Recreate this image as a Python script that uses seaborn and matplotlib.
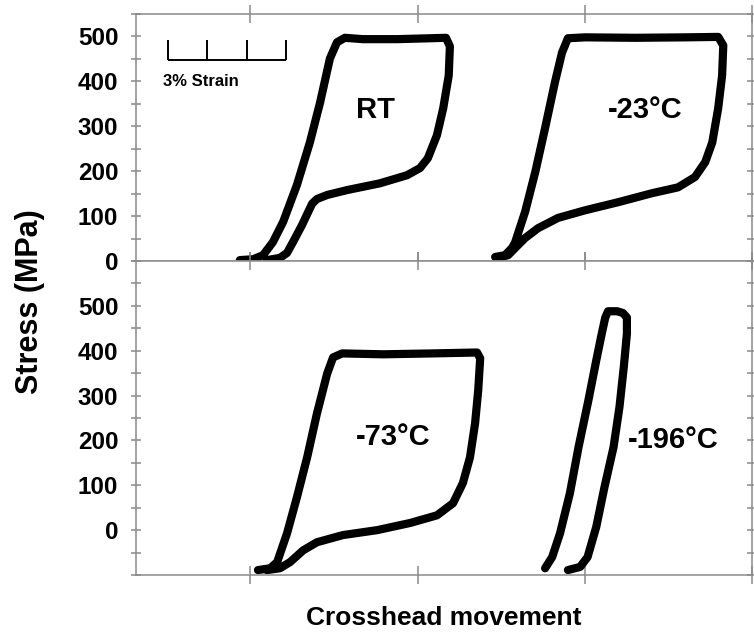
import matplotlib
matplotlib.use("Agg")
import matplotlib.pyplot as plt
from matplotlib.ticker import MultipleLocator, FixedLocator
import pandas as pd
import seaborn as sns

# Crosshead movement expressed in % strain, stress in MPa
rt_strain = [2.64, 2.98, 3.23, 3.48, 3.74, 4.09, 4.42, 4.68, 4.93, 5.11, 5.31, 5.77,
             6.64, 7.48, 7.88, 7.98, 7.95, 7.81, 7.65, 7.42, 7.22, 6.89, 6.20, 5.37,
             4.86, 4.60, 4.48, 4.36, 4.22, 3.99, 3.84, 3.66, 3.33]
rt_stress = [2, 4, 13, 42, 87, 169, 264, 353, 451, 487, 497, 494,
             494, 496, 497, 478, 413, 340, 280, 229, 207, 191, 173, 158,
             147, 138, 128, 106, 80, 42, 18, 7, 2]

m23_strain = [9.13, 9.38, 9.56, 9.64, 9.89, 10.15, 10.40, 10.65, 10.83, 10.98, 11.42,
              12.69, 13.96, 14.80, 14.93, 14.90, 14.80, 14.65, 14.47, 14.21, 13.78,
              13.12, 12.26, 11.42, 10.73, 10.22, 9.89, 9.64, 9.46, 9.20]
m23_stress = [9, 13, 29, 42, 109, 198, 296, 398, 464, 496, 498,
              497, 498, 499, 480, 413, 340, 264, 220, 187, 164,
              151, 131, 113, 96, 73, 51, 29, 13, 7]

m73_strain = [3.10, 3.41, 3.59, 3.84, 4.09, 4.35, 4.60, 4.86, 5.01, 5.24, 6.28, 7.55,
              8.67, 8.75, 8.70, 8.62, 8.49, 8.31, 8.06, 7.65, 6.97, 6.13, 5.26, 4.60,
              4.25, 3.92, 3.66, 3.33]
m73_stress = [-89, -85, -71, -7, 73, 162, 260, 349, 385, 394, 392, 394,
              396, 383, 312, 238, 162, 105, 60, 33, 16, 0, -11, -27,
              -45, -71, -85, -89]

m196_strain = [10.40, 10.58, 10.78, 11.03, 11.25, 11.50, 11.70, 11.84, 11.93, 12.00,
               12.23, 12.38, 12.48, 12.48, 12.40, 12.29, 12.14, 11.91, 11.70, 11.48,
               11.29, 10.98]
m196_stress = [-85, -60, -7, 82, 185, 289, 378, 438, 474, 488,
               488, 484, 474, 438, 363, 274, 185, 96, 7, -60,
               -82, -89]

loop_labels = ["RT", "-23°C", "-73°C", "-196°C"]
label_strain = [6.10, 12.94, 6.53, 13.65]
label_stress = [336, 336, 207, 202]

scale_bar_ticks = [0.81, 1.81, 2.81, 3.81]   # 1 % strain divisions
scale_bar_level = 447
scale_bar_top = 493

sns.set_theme(style="white")
plt.rcParams["font.family"] = ["Liberation Sans", "DejaVu Sans"]
plt.rcParams["font.weight"] = "bold"
plt.rcParams["text.color"] = "black"
plt.rcParams["axes.labelcolor"] = "black"

GREY = "#8a8a8a"
fig = plt.figure(figsize=(7.54, 6.38), dpi=100)
W, H = 754, 638
left, right = 136 / W, 752 / W
ax_top = fig.add_axes([left, 1 - 261 / H, right - left, (261 - 14) / H])
ax_bot = fig.add_axes([left, 1 - 575 / H, right - left, (575 - 261) / H], sharex=ax_top)

line_kw = dict(color="black", linewidth=5.9, sort=False, estimator=None,
               solid_joinstyle="round", solid_capstyle="round")
for ax, loops in ((ax_top, [(rt_strain, rt_stress), (m23_strain, m23_stress)]),
                  (ax_bot, [(m73_strain, m73_stress), (m196_strain, m196_stress)])):
    for xs, ys in loops:
        df = pd.DataFrame({"strain": xs, "stress": ys})
        sns.lineplot(data=df, x="strain", y="stress", ax=ax, **line_kw)

x_right = 15.66
x_step = 4.25
xticks = [x_right - k * x_step for k in (3, 2, 1, 0)]
ax_top.set_xlim(0, x_right)
ax_top.set_ylim(0, 550)
ax_bot.set_ylim(-100, 600)

for ax in (ax_top, ax_bot):
    ax.set_xlabel("")
    ax.set_ylabel("")
    ax.xaxis.set_major_locator(FixedLocator(xticks))
    ax.yaxis.set_major_locator(FixedLocator([0, 100, 200, 300, 400, 500]))
    ax.yaxis.set_minor_locator(MultipleLocator(50))
    ax.tick_params(axis="x", which="major", direction="inout", length=13, width=1.1,
                   color=GREY, top=True, bottom=True, labelbottom=False, labeltop=False)
    ax.tick_params(axis="y", which="both", direction="inout", length=7.5, width=1.1,
                   color=GREY, left=True, right=True, labelright=False,
                   labelsize=17.5, pad=9, labelcolor="black")
    for sp in ax.spines.values():
        sp.set_color(GREY)
        sp.set_linewidth(1.1)
    for lab in ax.get_yticklabels():
        lab.set_fontweight("bold")

# Loop annotations
for i, (txt, xs, ys) in enumerate(zip(loop_labels, label_strain, label_stress)):
    ax = ax_top if i < 2 else ax_bot
    ax.text(xs, ys, txt, fontsize=21, fontweight="bold", ha="center", va="center",
            color="black")

# 3 % strain scale bar
ax_top.plot([scale_bar_ticks[0], scale_bar_ticks[-1]], [scale_bar_level] * 2,
            color="black", lw=1.4, solid_capstyle="butt")
ax_top.vlines(scale_bar_ticks, scale_bar_level, scale_bar_top, color="black", lw=1.4)
ax_top.text(scale_bar_ticks[0] - 0.13, 400, "3% Strain", fontsize=12,
            fontweight="bold", ha="left", va="center", color="black")

fig.text(444 / W, 1 - 618 / H, "Crosshead movement", fontsize=19,
         fontweight="bold", ha="center", va="center", color="black")
fig.text(30 / W, 1 - 302 / H, "Stress (MPa)", fontsize=22, fontweight="bold",
         ha="center", va="center", rotation=90, color="black")

fig.savefig("out.png", dpi=100)
